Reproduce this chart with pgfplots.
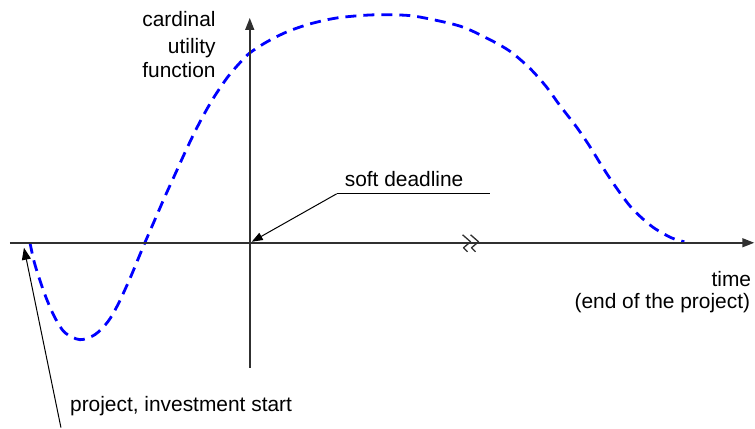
\documentclass[border=0pt]{standalone}
\usepackage{fontspec}
\setmainfont{Liberation Sans}
\usepackage{pgfplots}
\pgfplotsset{compat=1.18}
\usetikzlibrary{arrows.meta}
\definecolor{AxisGray}{HTML}{303030}
\definecolor{CurveBlue}{HTML}{0000FF}
\tikzset{lbl/.style={font=\fontsize{21}{25}\selectfont, inner sep=0pt, text=black}}

\begin{document}
\begin{tikzpicture}
\begin{axis}[
  hide axis,
  x=1bp, y=1bp,
  xmin=0, xmax=755, ymin=-180, ymax=243,
  clip=false,
  anchor=origin, at={(0,0)},
]
\path (axis cs:0,-180) rectangle (axis cs:755,243);

% utility curve (pixel x, height above the time axis)
\addplot[CurveBlue, line width=2.8bp, dash pattern=on 11bp off 7bp, smooth, tension=0.5]
 coordinates {
 (30,0) (35,-22) (45,-52) (55,-75) (65,-90) (80,-97) (95,-92) (108,-79)
 (118,-62) (130,-36) (140,-12) (145,0) (155,23) (165,46) (175,68) (185,90)
 (195,111) (205,130) (215,147) (228,166) (240,180) (250,190) (267,201) (287,211)
 (310,219) (337,225) (370,228) (400,228) (420,226) (460,217) (487,205)
 (510,192) (530,175) (547,156) (560,138) (577,116) (590,97) (603,76)
 (617,55) (633,34) (653,16) (672,5) (685,1)
 };

% axes
\draw[AxisGray, line width=1.5bp, -{Triangle[length=12bp,width=9bp]}]
  (axis cs:10,0) -- (axis cs:755,0);
\draw[AxisGray, line width=1.5bp, -{Triangle[length=12bp,width=9bp]}]
  (axis cs:250,-125) -- (axis cs:250,225);

% break mark on the time axis
\draw[AxisGray, line width=1.3bp, line join=round]
  (axis cs:463,8) -- (axis cs:471,1) -- (axis cs:464,-5) -- (axis cs:468,-9);
\draw[AxisGray, line width=1.3bp, line join=round]
  (axis cs:471,8) -- (axis cs:479,1) -- (axis cs:472,-5) -- (axis cs:476,-9);

% labels
\node[lbl, anchor=base east] at (axis cs:216,216) {cardinal};
\node[lbl, anchor=base east] at (axis cs:216,189) {utility};
\node[lbl, anchor=base east] at (axis cs:216,165) {function};

\node[lbl, anchor=base west] at (axis cs:345,56) {soft deadline};
\draw[black, line width=1bp] (axis cs:490,49) -- (axis cs:337,49);
\draw[black, line width=1bp, -{Triangle[length=11bp,width=8bp]}]
  (axis cs:337,49) -- (axis cs:252,1);

\node[lbl, anchor=base east] at (axis cs:752,-44) {time};
\node[lbl, anchor=base east] at (axis cs:751,-66) {(end of the project)};

\draw[black, line width=1bp, -{Triangle[length=12bp,width=9bp]}]
  (axis cs:61,-185) -- (axis cs:24,-5);
\node[lbl, anchor=base west] at (axis cs:70,-169) {project, investment start};
\end{axis}
\end{tikzpicture}
\end{document}
